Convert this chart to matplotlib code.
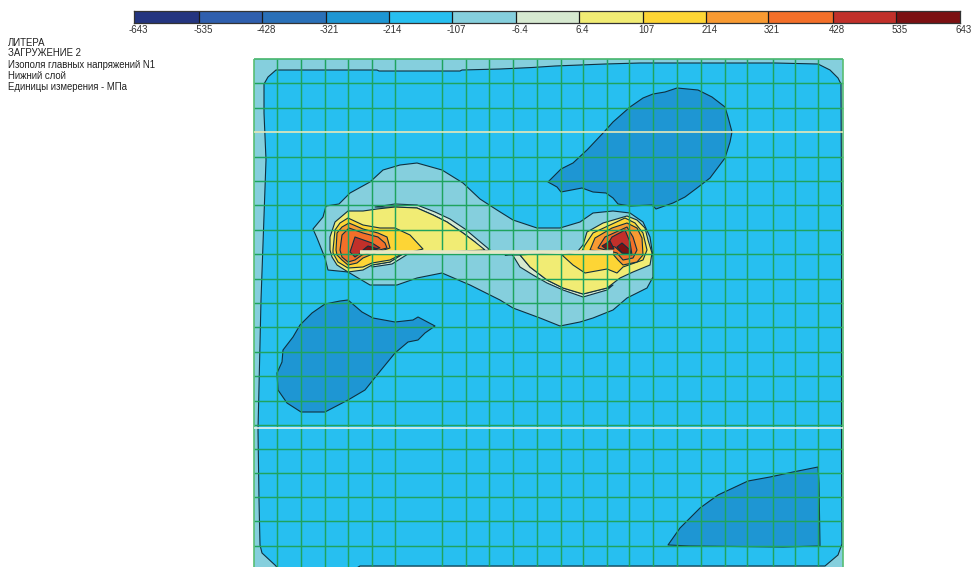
import matplotlib
matplotlib.use("Agg")
import matplotlib.pyplot as plt
from matplotlib.colors import ListedColormap
from matplotlib.transforms import ScaledTranslation
import numpy as np

plt.rcParams['font.family'] = ['Liberation Sans', 'DejaVu Sans']

# ---- legend scale ----
level_labels = ['-643', '-535', '-428', '-321', '-214', '-107', '-6.4', '6.4',
                '107', '214', '321', '428', '535', '643']
band_colors = ['#243580', '#2f5fae', '#2a70b8', '#1e96d3', '#27bff0', '#85cfdd', '#d6e9d0',
               '#f1ec74', '#fdd535', '#f89a32', '#f36f29', '#c1302a', '#7c1012']
title_lines = ['ЛИТЕРА', 'ЗАГРУЖЕНИЕ 2', 'Изополя главных напряжений N1',
               'Нижний слой', 'Единицы измерения - МПа']
title_y = [43, 53, 65, 76, 87]

# ---- mesh, plate units ----
mesh_x = [253.5, 277, 300.5, 324.5, 348, 372, 395, 442, 465.5, 489, 512.7, 536.7, 560.7, 583.3,
          607.3, 629.3, 653.3, 676.7, 700.7, 724.7, 747.3, 772.7, 795.3, 818.3, 842.5]
mesh_y = [58.5, 83, 107.5, 156.5, 181, 205.3, 229.7, 254, 278.5, 303, 327.3, 351.8, 376.2,
          400.7, 425, 449, 473, 497, 521, 546]
pale_y = [132, 428]
slit = ([360, 613], [252, 252])
plate = [(253.5, 58.5), (842.5, 58.5), (842.5, 580), (253.5, 580)]

# ---- isofield outlines, plate units ----
inner = [(264, 84), (268, 77), (276, 70), (377, 70), (379, 71), (460, 71), (462, 70), (500, 69),
         (532, 67.5), (555, 66), (580, 65), (605, 64), (640, 63), (775, 63), (818, 64), (830, 70),
         (838, 78), (841, 84), (841.5, 200), (841.5, 465), (842, 544), (838, 555), (825, 566),
         (360, 566), (345, 575), (280, 575), (276, 566), (262, 553), (260, 545), (259, 500),
         (258, 430), (261, 300), (266, 160), (264, 113)]
blob_ne = [(548, 182), (561, 169), (573, 163), (587, 150), (604, 132), (613, 122), (630, 107),
           (643, 98), (653, 94), (665, 92), (677, 88), (698, 90), (712, 97), (725, 107),
           (728, 117), (732, 132), (730, 142), (725, 158), (710, 178), (697, 188), (685, 197),
           (673, 203), (656, 209), (652, 205), (630, 206), (618, 204), (613, 198), (606, 193),
           (593, 192), (582, 188), (561, 192), (557, 187)]
blob_sw = [(435, 326), (418, 317), (413, 320), (395, 322), (373, 318), (362, 312), (348, 300),
           (340, 301), (325, 304), (312, 313), (300, 325), (293, 337), (283, 350), (282, 362),
           (277, 373), (278, 390), (287, 403), (301, 412), (325, 412), (348, 400), (365, 390),
           (377, 375), (395, 353), (408, 342), (418, 340), (425, 333)]
blob_se = [(668, 545), (680, 528), (700, 508), (718, 495), (748, 481), (770, 477), (793, 472),
           (818, 467), (819, 483), (820, 546), (783, 547), (690, 546)]
band_light = [(313, 229), (323, 217), (326, 206), (339, 204), (350, 193), (370, 182), (383, 170),
              (400, 165), (417, 163), (442, 170), (463, 183), (480, 199), (497, 210), (513, 220),
              (537, 228), (560, 228), (580, 222), (593, 213), (613, 211), (630, 213), (643, 222),
              (650, 237), (653, 257), (653, 277), (647, 288), (627, 298), (613, 310), (593, 318),
              (580, 322), (560, 326), (540, 318), (513, 308), (500, 300), (480, 290), (470, 285),
              (442, 273), (417, 278), (397, 285), (370, 285), (348, 272), (328, 270), (325, 258),
              (317, 238)]
strip_upper = [(375, 207), (395, 204), (417, 205), (435, 212), (450, 219), (465, 229), (478, 240),
               (490, 250), (482, 251), (475, 242), (463, 233), (447, 222), (433, 215), (417, 208),
               (395, 207)]
strip_hook = [(403, 253), (408, 254), (392, 264), (372, 267), (372, 265), (390, 262)]
strip_lower = [(505, 255), (512, 254), (520, 267), (533, 275), (547, 283), (563, 290), (583, 297),
               (607, 290), (613, 285), (607, 288), (583, 294), (563, 288), (547, 280), (530, 267),
               (520, 255)]
yellow_w = [(330, 250), (330, 237), (335, 222), (348, 211), (363, 211), (377, 209), (395, 207),
            (417, 208), (433, 215), (447, 222), (463, 233), (475, 242), (485, 250), (403, 254),
            (390, 262), (372, 265), (363, 270), (348, 272), (337, 265), (332, 257)]
yellow_e = [(520, 255), (530, 267), (547, 280), (563, 288), (583, 294), (607, 288), (620, 278),
            (633, 272), (650, 265), (652, 253), (648, 240), (645, 228), (637, 220), (627, 216),
            (603, 223), (587, 232), (583, 245), (578, 251)]
gold_w = [(333, 250), (335, 230), (340, 223), (348, 218), (363, 225), (380, 228), (395, 228),
          (410, 235), (423, 249), (400, 255), (390, 260), (372, 263), (363, 267), (348, 268),
          (338, 262), (333, 253)]
gold_e = [(562, 255), (573, 265), (585, 273), (607, 269), (617, 273), (623, 267), (643, 260),
          (647, 250), (643, 233), (635, 223), (625, 218), (610, 225), (593, 233), (585, 245),
          (582, 251)]
orange_w = [(336, 250), (337, 233), (342, 227), (349, 223), (363, 229), (378, 233), (387, 237),
            (390, 248), (375, 253), (363, 258), (357, 263), (348, 265), (342, 260), (337, 255)]
orange_e = [(590, 250), (595, 238), (612, 228), (627, 223), (637, 228), (642, 238), (643, 255),
            (637, 262), (623, 265), (618, 260), (612, 253)]
deep_w = [(340, 250), (342, 235), (349, 228), (363, 233), (378, 237), (385, 243), (387, 248),
          (372, 252), (362, 255), (355, 260), (348, 262), (342, 257)]
deep_e = [(598, 248), (605, 237), (627, 227), (633, 237), (637, 250), (633, 258), (623, 260),
          (617, 253)]
red_w = [(350, 252), (355, 237), (372, 243), (380, 248), (368, 250), (362, 252), (355, 257)]
red_e = [(607, 245), (612, 237), (625, 230), (630, 242), (632, 255), (622, 253), (615, 247)]
dark_w = [(363, 250), (368, 246), (378, 249), (368, 251)]
dark_e = [(602, 246), (610, 241), (614, 249), (606, 249)]
dark_e2 = [(617, 247), (622, 243), (630, 250), (631, 254), (622, 253)]

fields = [
    (inner, 4), (blob_ne, 3), (blob_sw, 3), (blob_se, 3), (band_light, 5),
    (strip_upper, 6), (strip_hook, 6), (strip_lower, 6), (yellow_w, 7), (yellow_e, 7),
    (gold_w, 8), (gold_e, 8), (orange_w, 9), (orange_e, 9), (deep_w, 10), (deep_e, 10),
    (red_w, 11), (red_e, 11), (dark_w, 12), (dark_e, 12), (dark_e2, 12),
]

fig = plt.figure(figsize=(9.73, 5.67), dpi=100, facecolor='white')
ax = fig.add_axes([0, 0, 1, 1])
ax.set_xlim(0, 973)
ax.set_ylim(567, 0)
ax.axis('off')

px, py = zip(*plate)
ax.fill(px, py, facecolor=band_colors[5], edgecolor='none', zorder=1)
for i, (outline, band) in enumerate(fields):
    xs, ys = zip(*outline)
    ax.fill(xs, ys, facecolor=band_colors[band], edgecolor='#10303f',
            linewidth=0.8, joinstyle='round', zorder=2 + i * 0.01)

grid_c = '#1fa35e'
ax.vlines(mesh_x[1:-1], 58.5, 567, color=grid_c, lw=1.05, zorder=4)
ax.hlines(mesh_y[1:], 253.5, 842.5, color=grid_c, lw=1.05, zorder=4)
ax.hlines(mesh_y[0], 253.5, 842.5, color='#45b56c', lw=1.2, zorder=4)
ax.vlines([mesh_x[0], mesh_x[-1]], 58.5, 567, color='#58bd74', lw=1.2, zorder=4)
ax.hlines(pale_y[0], 253.5, 842.5, color='#e6e8b8', lw=1.2, zorder=5)
ax.hlines(pale_y[1], 253.5, 842.5, color='#e8f2ee', lw=1.2, zorder=5)
ax.plot(slit[0], slit[1], color='#e6e8c4', lw=2.6, solid_capstyle='butt', zorder=5)

for s, y in zip(title_lines, title_y):
    ax.text(8, y, s, fontsize=6.9, color='#222222', va='center', ha='left')

# colour scale
edges = [134, 199, 262, 325.7, 388.7, 452, 515.7, 578.7, 642.7, 705.7, 768, 832.7, 895.7, 960]
cax = fig.add_axes([134 / 973, 1 - 22.5 / 567, (960 - 134) / 973, 12 / 567])
cax.pcolormesh(edges, [0, 1], np.arange(len(band_colors)).reshape(1, -1),
               cmap=ListedColormap(band_colors), edgecolors='none')
cax.vlines(edges[1:-1], 0, 1, color='#1a1a1a', lw=0.9)
cax.set_yticks([])
cax.set_xticks(edges)
cax.set_xticklabels(level_labels, fontsize=7.0, color='#333333')
cax.tick_params(axis='x', length=0, pad=2)
shift = ScaledTranslation(4 / 100, 0, fig.dpi_scale_trans)
for t in cax.get_xticklabels():
    t.set_transform(t.get_transform() + shift)
for s in cax.spines.values():
    s.set_color('#333333')
    s.set_linewidth(0.9)

fig.savefig('out.png', dpi=100, facecolor='white')
